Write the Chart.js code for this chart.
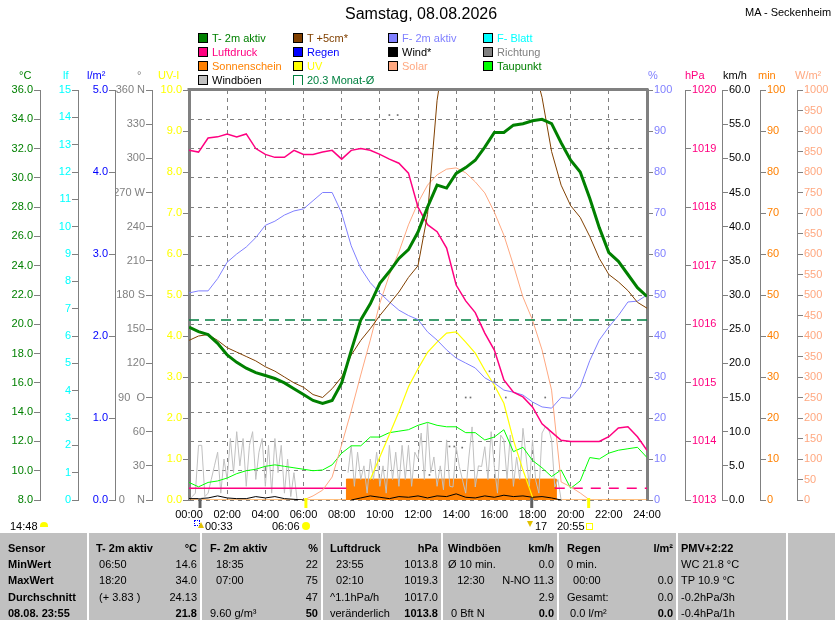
<!DOCTYPE html>
<html lang="de">
<head>
<meta charset="utf-8">
<title>Samstag, 08.08.2026</title>
<script src="https://cdn.jsdelivr.net/npm/chart.js@4.4.1/dist/chart.umd.min.js"></script>
<style>
  html, body { margin: 0; padding: 0; background: #fff; }
  body { font-family: 'Liberation Sans', Arial, sans-serif; font-size: 11px; color: #000; }
  #page { position: relative; width: 835px; height: 620px; overflow: hidden; }
  #chart { position: absolute; left: 0; top: 0; }
  .abs { position: absolute; white-space: pre; line-height: 14px; }
  #legend { position: absolute; left: 198px; top: 31px; display: grid;
            grid-template-columns: 95px 95px 95px 95px; grid-auto-rows: 14px; }
  #legend div { white-space: nowrap; line-height: 14px; }
  #legend i { display: inline-block; width: 8px; height: 8px; border: 1px solid #000;
              margin-right: 4px; vertical-align: -1px; }
  #legend i.open { border-color: #008040; border-bottom: none; height: 9px; background: none !important; }
  #table { position: absolute; left: 0; top: 533px; width: 835px; height: 87px; background: #c0c0c0; }
  #table .sep { position: absolute; top: 0; width: 2px; height: 87px; background: #fff; }
  #table span { position: absolute; white-space: pre; line-height: 16px; }
  #table .b { font-weight: bold; }
</style>
</head>
<body>
<div id="page">
  <canvas id="chart" width="835" height="620"></canvas>

  <div class="abs" style="left:345px; top:4px; font-size:16px; line-height:20px;">Samstag, 08.08.2026</div>
  <div class="abs" style="left:745px; top:5px;">MA - Seckenheim</div>

  <div id="legend"></div>

  <!-- axis units -->
  <div class="abs" style="left:19px;  top:68px; color:#008000;">°C</div>
  <div class="abs" style="left:63px;  top:68px; color:#00ffff;">lf</div>
  <div class="abs" style="left:87px;  top:68px; color:#0000ff;">l/m²</div>
  <div class="abs" style="left:137px; top:68px; color:#808080;">°</div>
  <div class="abs" style="left:158px; top:68px; color:#ffff00;">UV-I</div>
  <div class="abs" style="left:648px; top:68px; color:#8080ff;">%</div>
  <div class="abs" style="left:685px; top:68px; color:#ff0080;">hPa</div>
  <div class="abs" style="left:723px; top:68px; color:#000;">km/h</div>
  <div class="abs" style="left:758px; top:68px; color:#ff8000;">min</div>
  <div class="abs" style="left:795px; top:68px; color:#ffa880;">W/m²</div>

  <!-- sun / moon notes under the time axis -->
  <div class="abs" style="left:10px; top:519px;">14:48</div>
  <div style="position:absolute; left:40px; top:522px; width:8px; height:5px; background:#ffff00; border-radius:4px 4px 0 0;"></div>
  <div style="position:absolute; left:194px; top:520px; width:4px; height:4px; border:1px dotted #0000ff;"></div>
  <div style="position:absolute; left:198px; top:522px; width:0; height:0; border-left:3px solid transparent; border-right:3px solid transparent; border-bottom:6px solid #e0c000;"></div>
  <div class="abs" style="left:205px; top:519px;">00:33</div>
  <div class="abs" style="left:272px; top:519px;">06:06</div>
  <div style="position:absolute; left:302px; top:522px; width:8px; height:8px; background:#ffff00; border-radius:50%;"></div>
  <div style="position:absolute; left:527px; top:521px; width:0; height:0; border-left:3px solid transparent; border-right:3px solid transparent; border-top:6px solid #e0c000;"></div>
  <div class="abs" style="left:535px; top:519px;">17</div>
  <div class="abs" style="left:557px; top:519px;">20:55</div>
  <div style="position:absolute; left:586px; top:523px; width:5px; height:5px; border:1px solid #ffff00;"></div>

  <div id="table"></div>
</div>

<script>
const FONT = "'Liberation Sans', Arial, Helvetica, sans-serif";
Chart.defaults.font.family = FONT;
Chart.defaults.font.size = 11;

// ---- data ----
const halfHours = ['00:00','00:30','01:00','01:30','02:00','02:30','03:00','03:30','04:00','04:30',
  '05:00','05:30','06:00','06:30','07:00','07:30','08:00','08:30','09:00','09:30','10:00','10:30',
  '11:00','11:30','12:00','12:30','13:00','13:30','14:00','14:30','15:00','15:30','16:00','16:30',
  '17:00','17:30','18:00','18:30','19:00','19:30','20:00','20:30','21:00','21:30','22:00','22:30',
  '23:00','23:30','24:00'];

const temp2m = [19.8,19.5,19.3,18.7,17.9,17.4,17.0,16.7,16.5,16.3,16.0,15.6,15.2,14.8,14.6,14.8,
  16.0,18.2,20.3,21.4,22.8,23.6,24.5,25.1,26.3,28.0,29.5,29.3,30.3,30.7,31.2,32.1,33.1,33.1,33.6,
  33.7,33.9,34.0,33.7,32.4,31.2,30.4,28.6,26.6,24.9,24.3,23.4,22.5,21.9];
const temp5cm = [18.9,19.2,19.3,18.9,18.4,18.1,17.8,17.5,17.1,16.8,16.4,16.0,15.7,15.2,15.0,15.6,
  16.4,17.9,18.9,19.7,20.6,21.4,22.2,23.2,24.0,27.5,35.3,39.5,42.0,44.0,45.0,45.5,45.5,45.0,43.5,
  41.0,38.0,35.5,31.8,29.5,28.1,27.3,26.0,24.5,23.4,22.9,22.3,21.5,21.1];
const dewPoint = [9.2,8.9,9.2,9.3,9.5,9.8,10.0,10.1,10.3,10.4,10.3,10.2,10.1,10.0,10.05,10.4,11.2,
  11.7,11.7,12.3,12.3,12.6,12.7,12.8,13.1,13.3,13.1,13.0,13.0,12.6,12.6,12.1,12.3,12.8,11.3,11.6,
  10.7,10.2,9.6,10.05,8.8,9.3,10.9,10.8,11.2,11.4,11.5,11.6,10.9];
const humidity = [50.5,51,51,54,58,60,61.7,64,67,68,69.5,70.5,71,73,75,75,70,62,56.5,53,50.5,48.3,
  46.3,45,44,41,39,36.6,34.6,33.4,32.2,29.8,28.5,26.8,26.3,25.6,23.9,22.7,22.4,25,24.8,27.6,34,39,
  42.2,45,48.3,48.5,50];
const pressure = [1018.97,1018.94,1019.18,1019.2,1019.25,1019.2,1019.25,1019.0,1018.9,1018.85,
  1018.85,1018.97,1018.9,1018.9,1018.94,1018.97,1018.82,1018.97,1019.0,1018.97,1018.9,1018.82,
  1018.75,1018.58,1018.0,1017.7,1017.58,1017.3,1016.67,1016.4,1016.2,1015.85,1015.56,1015.05,
  1014.84,1014.76,1014.59,1014.3,1014.16,1014.02,1014.0,1014.0,1014.0,1014.0,1014.08,1014.23,
  1014.25,1014.08,1013.85];
const uvIndex = [null,null,null,null,null,null,null,null,null,null,null,null,null,null,null,null,
  null,null,null,0.5,1.05,1.6,2.15,2.76,3.2,3.6,3.85,4.07,4.1,3.85,3.58,3.17,2.8,2.36,1.46,0.73,
  0.07,null,null,null,null,null,null,null,null,null,null,null,null];
const solar = [null,null,null,null,null,null,null,null,null,null,null,null,0,10,24,56,135,217,305,
  390,480,549,605,671,725,768,793,807,810,798,776,749,702,646,573,495,439,366,268,44,32,17,0,
  null,null,null,null,null,null];
const wind = [0.2,0.2,0.3,0.6,0.3,0.2,0.2,0.5,0.3,0.5,0.2,0.1,0,null,null,null,null,0,0.3,0.6,0.4,
  0.2,0.5,0.4,0.6,0.3,0.6,0.5,0.9,0.4,0.3,0.6,0.4,0.7,0.5,0.6,0.4,0.5,0.3,0,null,null,null,null,
  null,null,null,null,null];

// gusts every 10 minutes
const gustNightStart = '00:00';
const gustNight = [0,0.5,1,8,8,0.5,1,3,5,7,1,6,3,9,4,10,5,9,2,8,10,3,7,9,2,8,1,9,4,8,1,6,0.5,4,0];
const gustDayStart = '08:20';
const gustDay = [4,8,2,7,3,5,1,6,3,7,2,5,1,8,3,7,2,8,3,8,2,7,6,9.8,3,11.3,4,6.3,2,5,1.5,8.8,2,1.9,
  7.8,4.9,2.9,1,6.3,10.7,1.9,5,4.9,7.8,3,10,4.9,1,9.5,8.8,3,9.5,2,6.3,3,10.5,6.3,2,8.8,2.9,1,9.8,
  10.7,10.5,8.8,1.9,3,0];

// sunshine minutes (step changes)
const sunTimes = ['00:00','08:15','19:15','24:00'];
const sunMinutes = [0, 5.1, 0, 0];

// wind direction samples
const dirTimes = ['10:30','10:56','12:36','13:39','13:54','14:19','14:30','14:45','15:45','16:00','16:36','18:40'];
const dirDeg = [338,338,22,47,47,46,90,90,113,104,90,90];

const monthMean = 20.3;
const markerHpa = 1013.2;
const markerSolid = ['00:00','08:15'];
const markerDashed = ['19:10','24:00'];

const eventTimes = ['00:33','06:06','17:56','20:55'];
const eventKinds = ['moon','sun','moon','sun'];

// ---- helpers ----
const hours = s => { const [h, m] = s.split(':').map(Number); return h + m / 60; };
const series = (times, vals) => times.map((t, i) => ({ x: hours(t), y: vals[i] }));
const tenMinutes = (start, vals) => vals.map((v, i) => ({ x: hours(start) + i / 6, y: v }));

const line = (label, data, axis, color, width, extra) => Object.assign({
  label, data, yAxisID: axis, borderColor: color, backgroundColor: color,
  borderWidth: width, pointRadius: 0, tension: 0, fill: false
}, extra || {});

const datasets = [
  line('T- 2m aktiv', series(halfHours, temp2m), 'tC', '#008000', 3),
  line('T +5cm*', series(halfHours, temp5cm), 'tC', '#804000', 1),
  line('Luftdruck', series(halfHours, pressure), 'hpa', '#ff0080', 1.5),
  line('F- 2m aktiv', series(halfHours, humidity), 'hum', '#8080ff', 1),
  line('Monat-Ø', [{ x: 0, y: monthMean }, { x: 24, y: monthMean }], 'tC', '#008040', 1.5, { borderDash: [10, 6] }),
  line('Solar', series(halfHours, solar), 'wm2', '#ffa880', 1),
  line('UV', series(halfHours, uvIndex), 'uv', '#ffff00', 1.2),
  line('Taupunkt', series(halfHours, dewPoint), 'tC', '#00ff00', 1),
  line('Richtung', series(dirTimes, dirDeg), 'dir', '#707070', 0,
       { showLine: false, pointRadius: 1.2, pointStyle: 'rect', pointBorderWidth: 0 }),
  line('Wind*', series(halfHours, wind), 'kmh', '#000000', 1),
  line('Marker', markerSolid.map(t => ({ x: hours(t), y: markerHpa })), 'hpa', '#ff0080', 1.5),
  line('Marker2', markerDashed.map(t => ({ x: hours(t), y: markerHpa })), 'hpa', '#ff0080', 1.5, { borderDash: [10, 8] }),
  line('Windböen', tenMinutes(gustNightStart, gustNight), 'kmh', '#c0c0c0', 1),
  line('Windböen2', tenMinutes(gustDayStart, gustDay), 'kmh', '#c0c0c0', 1),
  line('Sonnenschein', series(sunTimes, sunMinutes), 'sun', '#ff8000', 1,
       { stepped: true, fill: 'origin', backgroundColor: '#ff8000' })
];

// ---- axes ----
const GRAY = '#808080';
function yAxis(o) {
  return {
    type: 'linear', position: o.pos, weight: o.weight, min: o.min, max: o.max,
    afterFit: s => { s.width = o.width; },
    border: { color: GRAY, width: o.border || 1 },
    grid: { drawOnChartArea: false, color: GRAY, tickLength: 6 },
    ticks: { stepSize: o.step, color: o.color, padding: 1, autoSkip: false, callback: o.fmt }
  };
}
const fix1 = v => v.toFixed(1);
const int = v => String(Math.round(v));
const compass = { 0: '0    N', 90: '90  O', 180: '180 S', 270: '270 W', 360: '360 N' };

const tC = yAxis({ pos: 'left', weight: 5, min: 8, max: 36, step: 2, color: '#008000', width: 40, fmt: fix1 });
tC.grid.drawOnChartArea = true;
tC.border.dash = [4, 4];

const scales = {
  x: {
    type: 'linear', position: 'bottom', min: 0, max: 24,
    afterFit: s => { s.height = 20; },
    border: { display: false, dash: [4, 4] },
    grid: { color: GRAY, drawTicks: false },
    ticks: { stepSize: 2, color: '#000', padding: 8, autoSkip: false, maxRotation: 0,
             callback: v => String(v).padStart(2, '0') + ':00' }
  },
  tC,
  lf:   yAxis({ pos: 'left', weight: 4, min: 0, max: 15, step: 1, color: '#00ffff', width: 38, fmt: int }),
  rain: yAxis({ pos: 'left', weight: 3, min: 0, max: 5, step: 1, color: '#0000ff', width: 37, fmt: fix1 }),
  dir:  yAxis({ pos: 'left', weight: 2, min: 0, max: 360, step: 30, color: GRAY, width: 37,
                fmt: v => compass[v] || String(v) }),
  uv:   yAxis({ pos: 'left', weight: 1, min: 0, max: 10, step: 1, color: '#ffff00', width: 37, fmt: fix1, border: 3 }),
  hum:  yAxis({ pos: 'right', weight: 1, min: 0, max: 100, step: 10, color: '#8080ff', width: 38, fmt: int, border: 3 }),
  hpa:  yAxis({ pos: 'right', weight: 2, min: 1013, max: 1020, step: 1, color: '#ff0080', width: 37, fmt: int }),
  kmh:  yAxis({ pos: 'right', weight: 3, min: 0, max: 60, step: 5, color: '#000000', width: 38, fmt: fix1 }),
  sun:  yAxis({ pos: 'right', weight: 4, min: 0, max: 100, step: 10, color: '#ff8000', width: 37, fmt: int }),
  wm2:  yAxis({ pos: 'right', weight: 5, min: 0, max: 1000, step: 50, color: '#ffa880', width: 38, fmt: int })
};

// top frame line and sun/moon markers under the axis
const framePlugin = {
  id: 'frame',
  afterDraw(chart) {
    const { ctx, chartArea: a, scales: { x } } = chart;
    ctx.save();
    ctx.fillStyle = GRAY;
    ctx.fillRect(a.left - 1.5, a.top - 2, a.right - a.left + 3, 3);
    eventTimes.forEach((t, i) => {
      const px = x.getPixelForValue(hours(t));
      ctx.fillStyle = eventKinds[i] === 'sun' ? '#ffff00' : '#606060';
      ctx.fillRect(px - 1, a.bottom - 2, 3, 10);
    });
    ctx.restore();
  }
};

new Chart(document.getElementById('chart'), {
  type: 'line',
  data: { datasets },
  options: {
    responsive: false,
    animation: false,
    layout: { padding: { top: 90, bottom: 100, left: 0, right: 0 } },
    plugins: { legend: { display: false }, tooltip: { enabled: false } },
    scales
  },
  plugins: [framePlugin]
});

// ---- legend ----
const legendItems = [
  ['T- 2m aktiv', '#008000', '#008000'], ['T +5cm*', '#804000', '#804000'],
  ['F- 2m aktiv', '#8080ff', '#8080ff'], ['F- Blatt', '#00ffff', '#00ffff'],
  ['Luftdruck', '#ff0080', '#ff0080'], ['Regen', '#0000ff', '#0000ff'],
  ['Wind*', '#000000', '#000000'], ['Richtung', '#808080', '#808080'],
  ['Sonnenschein', '#ff8000', '#ff8000'], ['UV', '#ffff00', '#ffff00'],
  ['Solar', '#ffa880', '#ffa880'], ['Taupunkt', '#00ff00', '#008000'],
  ['Windböen', '#c0c0c0', '#000000'], ['20.3 Monat-Ø', null, '#008040']
];
document.getElementById('legend').innerHTML = legendItems.map(([t, box, col]) =>
  `<div style="color:${col}"><i class="${box ? '' : 'open'}" style="background:${box || 'none'}"></i>${t}</div>`
).join('');

// ---- summary table ----
const colEdges = [0, 89, 202, 323, 443, 559, 678, 788, 835];
const colIndent = [8, 7, 8, 7, 5, 8, 3, 4];
const tableRows = [
  [['Sensor'], ['T- 2m aktiv', '°C'], ['F- 2m aktiv', '%'], ['Luftdruck', 'hPa'], ['Windböen', 'km/h'], ['Regen', 'l/m²'], ['PMV+2:22'], ['']],
  [['MinWert'], [' 06:50', '14.6'], ['  18:35', '22'], ['  23:55', '1013.8'], ['Ø 10 min.', '0.0'], ['0 min.', ''], ['WC 21.8 °C'], ['']],
  [['MaxWert'], [' 18:20', '34.0'], ['  07:00', '75'], ['  02:10', '1019.3'], ['   12:30', 'N-NO 11.3'], ['  00:00', '0.0'], ['TP 10.9 °C'], ['']],
  [['Durchschnitt'], [' (+ 3.83 )', '24.13'], ['', '47'], ['^1.1hPa/h', '1017.0'], ['', '2.9'], ['Gesamt:', '0.0'], ['-0.2hPa/3h'], ['']],
  [['08.08. 23:55'], ['', '21.8'], ['9.60 g/m³', '50'], ['veränderlich', '1013.8'], [' 0 Bft N', '0.0'], [' 0.0 l/m²', '0.0'], ['-0.4hPa/1h'], ['']]
];
let html = '';
for (let c = 1; c < colEdges.length - 1; c++) {
  html += `<div class="sep" style="left:${colEdges[c] - 2}px"></div>`;
}
tableRows.forEach((row, r) => {
  const top = 7 + r * 16.2;
  row.forEach(([left, right], c) => {
    const boldL = r === 0 || c === 0 ? ' b' : '';
    const boldR = r === 0 || r === 4 ? ' b' : '';
    if (left) html += `<span class="${boldL}" style="left:${colEdges[c] + colIndent[c]}px; top:${top}px">${left}</span>`;
    if (right) html += `<span class="${boldR}" style="right:${835 - colEdges[c + 1] + 5}px; top:${top}px">${right}</span>`;
  });
});
document.getElementById('table').innerHTML = html;
</script>
</body>
</html>
